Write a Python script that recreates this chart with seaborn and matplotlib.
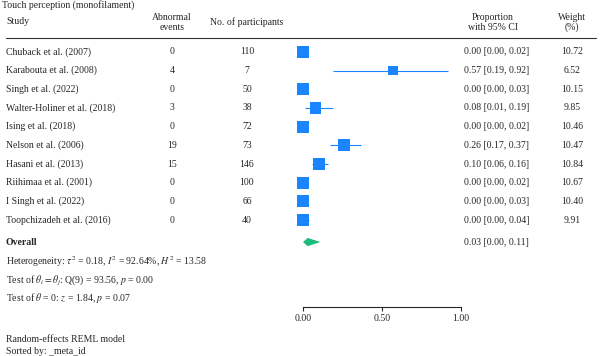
import matplotlib
matplotlib.use("Agg")
import matplotlib.pyplot as plt
import matplotlib.transforms as mtransforms
import seaborn as sns
import pandas as pd

# =====================
# DATA
# =====================
studies = ["Chuback et al. (2007)", "Karabouta et al. (2008)", "Singh et al. (2022)",
           "Walter-Holiner et al. (2018)", "Ising et al. (2018)", "Nelson et al. (2006)",
           "Hasani et al. (2013)", "Riihimaa et al. (2001)", "I Singh et al. (2022)",
           "Toopchizadeh et al. (2016)"]
events = [0, 4, 0, 3, 0, 19, 15, 0, 0, 0]
participants = [110, 7, 50, 38, 72, 73, 146, 100, 66, 40]
prop = [0.00, 0.57, 0.00, 0.08, 0.00, 0.26, 0.10, 0.00, 0.00, 0.00]
ci_low = [0.00, 0.19, 0.00, 0.01, 0.00, 0.17, 0.06, 0.00, 0.00, 0.00]
ci_high = [0.02, 0.92, 0.03, 0.19, 0.02, 0.37, 0.16, 0.02, 0.03, 0.04]
weights = [10.72, 6.52, 10.15, 9.85, 10.46, 10.47, 10.84, 10.67, 10.40, 9.91]
overall = (0.03, 0.00, 0.11)
xticks = [0.0, 0.5, 1.0]

df = pd.DataFrame({"study": studies, "events": events, "n": participants,
                   "prop": prop, "lo": ci_low, "hi": ci_high, "w": weights})
df["row"] = range(len(df))

# =====================
# STYLE
# =====================
sns.set_style("white")
plt.rcParams["font.family"] = ["Liberation Serif", "DejaVu Serif"]
plt.rcParams["mathtext.fontset"] = "stix"
fs = 7

blue = "#1a85ff"
green = "#1dbb7c"

fig = plt.figure(figsize=(6, 3.56), dpi=100)
# axis: 0.00 at 303px, 1.00 at 461px; rows from 52px, 18.67px apart
ax = fig.add_axes([0, 49 / 356, 1, 307 / 356])
ax.set_xlim(-303 / 158, (600 - 303) / 158)
ax.set_ylim(13.66, -2.785)

# =====================
# FOREST MARKS
# =====================
ax.hlines(df["row"], df["lo"], df["hi"], color=blue, lw=0.8, zorder=2)
sns.scatterplot(data=df, x="prop", y="row", size="w", sizes=(6.52 * 7, 10.84 * 7),
                size_norm=(6.52, 10.84), marker="s", color=blue, edgecolor="none",
                legend=False, ax=ax, zorder=3)

oy = 10.18
est, lo, hi = overall
ax.fill([lo, est, hi, est], [oy, oy - 0.22, oy, oy + 0.22], color=green, lw=0, zorder=3)

# axis
for s in ["top", "left", "right"]:
    ax.spines[s].set_visible(False)
ax.spines["bottom"].set_bounds(0, 1)
ax.spines["bottom"].set_linewidth(0.8)
ax.set_xticks(xticks)
ax.set_xticklabels([f"{t:.2f}" for t in xticks], fontsize=fs)
ax.tick_params(axis="x", direction="out", length=3, width=0.8, pad=2, bottom=True)
ax.set_yticks([])
ax.set_xlabel("")
ax.set_ylabel("")

# =====================
# TEXT COLUMNS
# =====================
tr = mtransforms.blended_transform_factory(fig.transFigure, ax.transData)

def txt(x, y, s, **kw):
    kw.setdefault("fontsize", fs)
    kw.setdefault("va", "center")
    ax.text(x, y, s, transform=tr, clip_on=False, **kw)

txt(2 / 600, -2.52, "Touch perception (monofilament)")
txt(6 / 600, -1.61, "Study")
txt(172 / 600, -1.58, "Abnormal\nevents", ha="center", linespacing=1.1)
txt(247 / 600, -1.61, "No. of participants", ha="center")
txt(493 / 600, -1.58, "Proportion\nwith 95% CI", ha="center", linespacing=1.1)
txt(572 / 600, -1.58, "Weight\n(%)", ha="center", linespacing=1.1)
ax.plot([6 / 600, 596 / 600], [-0.75, -0.75], transform=tr, color="#333333",
        lw=0.8, clip_on=False)

for _, r in df.iterrows():
    y = r["row"]
    txt(6 / 600, y, r["study"])
    txt(172 / 600, y, str(r["events"]), ha="center")
    txt(247 / 600, y, str(r["n"]), ha="center")
    txt(464 / 600, y, f"{r['prop']:.2f} [{r['lo']:.2f}, {r['hi']:.2f}]")
    txt(572 / 600, y, f"{r['w']:.2f}", ha="center")

txt(6 / 600, oy, "Overall", fontweight="bold")
txt(464 / 600, oy, f"{est:.2f} [{lo:.2f}, {hi:.2f}]")
txt(6 / 600, 11.25, r"Heterogeneity: $\tau^2$ = 0.18, $I^2$ = 92.64%, $H^2$ = 13.58")
txt(6 / 600, 12.21, r"Test of $\theta_i = \theta_j$: Q(9) = 93.56, $p$ = 0.00")
txt(6 / 600, 13.18, r"Test of $\theta$ = 0: $z$ = 1.84, $p$ = 0.07")

fig.text(6 / 600, 1 - 340 / 356, "Random-effects REML model", fontsize=fs, va="center")
fig.text(6 / 600, 1 - 351 / 356, "Sorted by: _meta_id", fontsize=fs, va="center")

fig.savefig("out.png", dpi=100)
